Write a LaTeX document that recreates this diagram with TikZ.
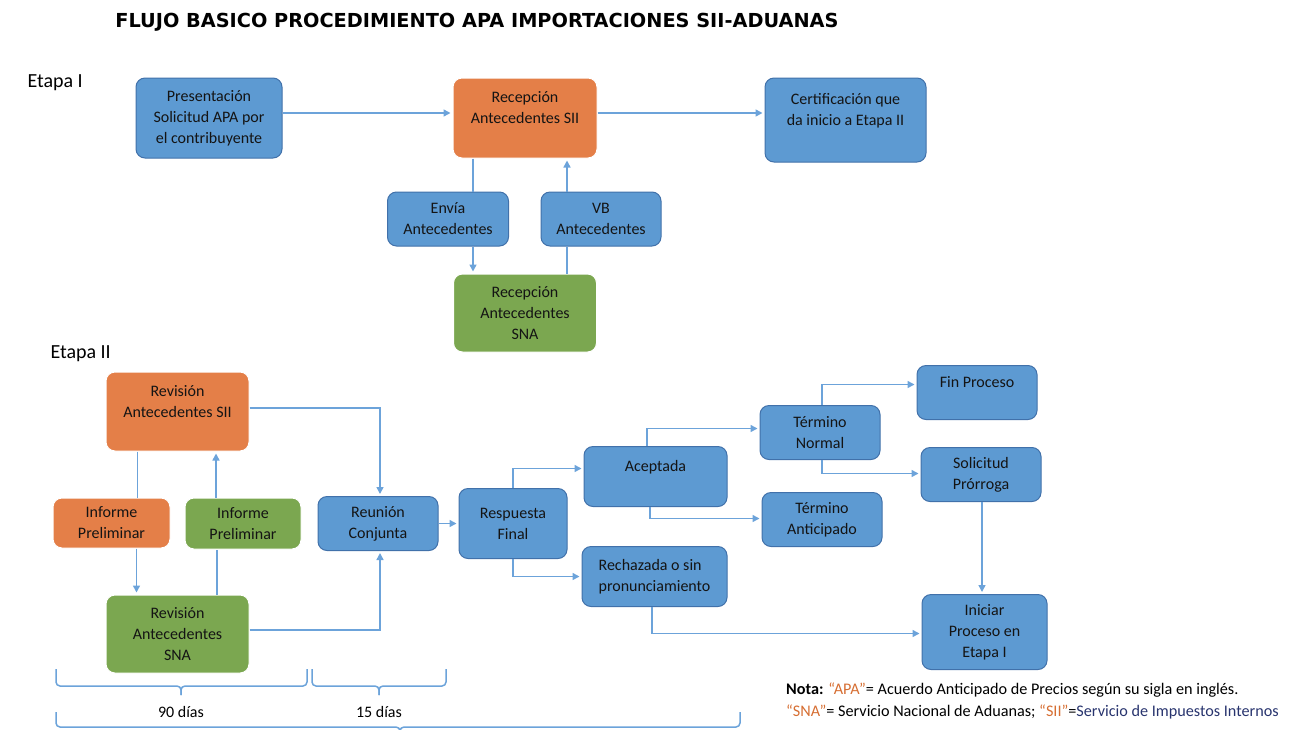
\documentclass[tikz,border=0pt]{standalone}
\usepackage{fontspec}
\setmainfont{Carlito}
\newfontfamily\titlefont{DejaVu Sans}
\usetikzlibrary{positioning,arrows.meta}

\definecolor{boxblue}{RGB}{93,154,210}
\definecolor{boxblueline}{RGB}{65,113,170}
\definecolor{boxorange}{RGB}{228,127,72}
\definecolor{boxgreen}{RGB}{123,167,80}
\definecolor{linkblue}{RGB}{108,163,218}
\definecolor{notaorange}{RGB}{214,110,50}
\definecolor{notablue}{RGB}{40,52,110}

\tikzset{
  box/.style={rounded corners=9pt, align=center, inner sep=2pt, text=black!92,
    font=\fontsize{16}{21}\selectfont, line width=1pt},
  proc/.style={box, fill=boxblue, draw=boxblueline},
  sii/.style={box, fill=boxorange, draw=white},
  sna/.style={box, fill=boxgreen, draw=white},
  dims/.style 2 args={minimum width=#1pt, minimum height=#2pt},
  link/.style={draw=linkblue, line width=1.5pt},
  flow/.style={link, -{Triangle[length=7pt,width=7pt]}, shorten >=2pt},
}

\begin{document}
\begin{tikzpicture}[x=1pt, y=-1pt]
      \useasboundingbox (0,0) rectangle (1290,729);
      % Title and stages
      \node[font=\titlefont\bfseries\fontsize{19.3}{23}\selectfont] (titulo) at (477,22) {FLUJO BASICO PROCEDIMIENTO APA IMPORTACIONES SII-ADUANAS};
      \node[anchor=west, font=\fontsize{20}{24}\selectfont] (etapaI) at (24,83) {Etapa I};
      \node[anchor=west, font=\fontsize{20}{24}\selectfont] (etapaII) at (47,354) {Etapa II};
      % Define nodes, Etapa I
      \node[proc, dims={146}{80}] (pres) at (209,118) {Presentación\\Solicitud APA por\\el contribuyente};
      \node[sii, dims={144}{80}, right=170pt of pres] (recSII) {Recepción\\Antecedentes SII\\~};
      \node[proc, dims={161}{84}, right=167pt of recSII, yshift=-2pt] (cert) {Certificación que\\da inicio a Etapa II\\~};
      \node[proc, dims={121}{54}, below=33pt of recSII, xshift=-77pt] (envia) {Envía\\Antecedentes};
      \node[proc, dims={120}{54}, below=33pt of recSII, xshift=76pt] (vb) {VB\\Antecedentes};
      \node[sna, dims={143}{78}, below=115pt of recSII] (recSNA) {Recepción\\Antecedentes\\SNA};
      % Define nodes, Etapa II
      \node[sii, dims={143}{79}] (revSII) at (177.5,411.5) {Revisión\\Antecedentes SII\\~};
      \node[sii, dims={117}{50}, below=46pt of revSII, xshift=-66pt] (infSII) {Informe\\Preliminar};
      \node[sna, dims={116}{51}, below=46pt of revSII, xshift=65.5pt] (infSNA) {Informe\\Preliminar};
      \node[sna, dims={143}{78}, below=143pt of revSII] (revSNA) {Revisión\\Antecedentes\\SNA};
      \node[proc, dims={120}{54}, right=16pt of infSNA] (reunion) {Reunión\\Conjunta};
      \node[proc, dims={108}{70}, right=20pt of reunion] (resp) {Respuesta\\Final};
      \node[proc, dims={143}{60}, right=16pt of resp, yshift=47pt] (acept) {Aceptada\\~};
      \node[proc, dims={145}{60}, right=14pt of resp, yshift=-53pt, align=left] (rech) {Rechazada o sin\\pronunciamiento};
      \node[proc, dims={120}{54}, right=32pt of acept, yshift=44pt] (termN) {Término\\Normal};
      \node[proc, dims={120}{54}, right=34pt of acept, yshift=-43pt] (termA) {Término\\Anticipado};
      \node[proc, dims={120}{54}, right=36pt of termN, yshift=40pt] (fin) {Fin Proceso\\~};
      \node[proc, dims={120}{54}, right=40pt of termN, yshift=-42pt] (prorroga) {Solicitud\\Prórroga};
      \node[proc, dims={125}{75}, below=92pt of prorroga, xshift=3.5pt] (iniciar) {Iniciar\\Proceso en\\Etapa I};
      % Connect nodes, Etapa I
      \draw[flow] ([yshift=5pt]pres.east) -- ([yshift=5pt]recSII.west);
      \draw[flow] ([yshift=5pt]recSII.east) -- ([yshift=5pt]recSII.east -| cert.west);
      \draw[link] ([xshift=-52pt]recSII.south) -- ([xshift=-52pt]recSII.south |- envia.north);
      \draw[flow] ([xshift=25pt]envia.south) -- ([xshift=25pt]envia.south |- recSNA.north);
      \draw[link] ([xshift=42pt]recSNA.north) -- ([xshift=42pt]recSNA.north |- vb.south);
      \draw[flow] ([xshift=-34pt]vb.north) -- ([xshift=-34pt]vb.north |- recSII.south);
      % Connect nodes, Etapa II
      \draw[link] ([xshift=-40pt]revSII.south) -- ([xshift=-40pt]revSII.south |- infSII.north);
      \draw[flow] ([xshift=25pt]infSII.south) -- ([xshift=25pt]infSII.south |- revSNA.north);
      \draw[link] ([xshift=39.5pt]revSNA.north) -- ([xshift=39.5pt]revSNA.north |- infSNA.south);
      \draw[flow] ([xshift=-27pt]infSNA.north) -- ([xshift=-27pt]infSNA.north |- revSII.south);
      \draw[flow] ([yshift=3.5pt]revSII.east) -| ([xshift=2pt]reunion.north);
      \draw[flow] ([yshift=4pt]revSNA.east) -| ([xshift=2pt]reunion.south);
      \draw[flow] (reunion) -- (resp);
      \draw[flow] (resp.north) |- ([yshift=8pt]acept.west);
      \draw[flow] (resp.south) |- (rech.west);
      \draw[flow] ([xshift=-8.5pt]acept.north) |- ([yshift=4pt]termN.west);
      \draw[flow] ([xshift=-5.5pt]acept.south) |- ([yshift=1pt]termA.west);
      \draw[flow] ([xshift=2pt]termN.north) |- ([yshift=8pt]fin.west);
      \draw[flow] ([xshift=2pt]termN.south) |- ([yshift=1pt]prorroga.west);
      \draw[flow] ([xshift=1pt]prorroga.south) -- ([xshift=1pt]prorroga.south |- iniciar.north);
      \draw[flow] ([xshift=-2.5pt]rech.south) |- ([yshift=-1.5pt]iniciar.west);
      % Time braces
      \draw[link, rounded corners=4pt] (56,669) -- (56,686) -- (181,686) -- (181,695);
      \draw[link, rounded corners=4pt] (307,669) -- (307,686) -- (181,686) -- (181,695);
      \draw[link, rounded corners=4pt] (312,669) -- (312,686) -- (379,686) -- (379,695);
      \draw[link, rounded corners=4pt] (446,669) -- (446,686) -- (379,686) -- (379,695);
      \draw[link, rounded corners=4pt] (56,712) -- (56,727) -- (400,727) -- (400,740);
      \draw[link, rounded corners=4pt] (740,712) -- (740,727) -- (400,727) -- (400,740);
      \node[font=\fontsize{16}{20}\selectfont] (dias90) at (181,712) {90 días};
      \node[font=\fontsize{16}{20}\selectfont] (dias15) at (379,712) {15 días};
      % Note
      \node[anchor=west, align=left, inner sep=0pt, font=\fontsize{16.2}{22}\selectfont] (nota) at (786,701)
        {\textbf{Nota:} \textcolor{notaorange}{“APA”}= Acuerdo Anticipado de Precios según su sigla en inglés.\\
         \textcolor{notaorange}{“SNA”}= Servicio Nacional de Aduanas; \textcolor{notaorange}{“SII”}=\textcolor{notablue}{Servicio de Impuestos Internos}};
    \end{tikzpicture}
\end{document}
